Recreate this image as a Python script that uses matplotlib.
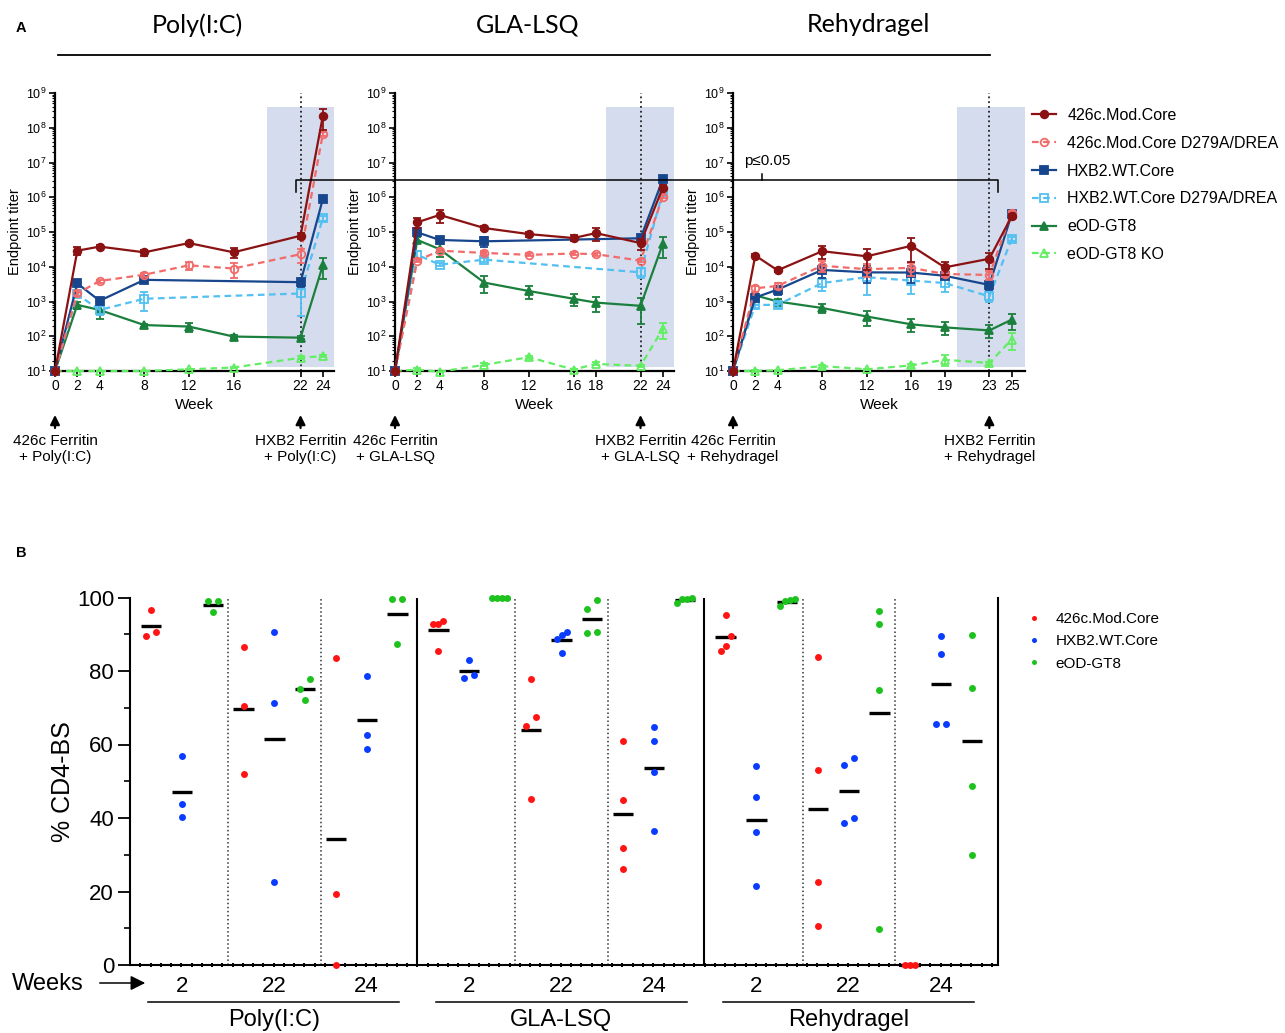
import numpy as np
import matplotlib
matplotlib.use('Agg')
import matplotlib.pyplot as plt
from matplotlib import transforms
from matplotlib.lines import Line2D
from matplotlib.ticker import FixedLocator, LogLocator, NullFormatter, LogFormatterMathtext

plt.rcParams['font.family'] = ['Liberation Sans', 'DejaVu Sans']

nan = np.nan

# ---------------- panel A data ----------------
series_names = ['426c.Mod.Core', '426c.Mod.Core D279A/DREA', 'HXB2.WT.Core',
                'HXB2.WT.Core D279A/DREA', 'eOD-GT8', 'eOD-GT8 KO']
series_colors = ['#8b1212', '#f26b6b', '#17468c', '#52c0f2', '#1b7f3d', '#62ee62']
series_markers = ['o', 'o', 's', 's', '^', '^']
series_filled = [True, False, True, False, True, False]

adjuvants = ['Poly(I:C)', 'GLA-LSQ', 'Rehydragel']

poly_weeks = [0, 2, 4, 8, 12, 16, 22, 24]
poly_titer = [
    [10, 2.9e4, 3.8e4, 2.6e4, 4.8e4, 2.6e4, 7.8e4, 2.2e8],
    [10, 1.7e3, 3.9e3, 5.9e3, 1.1e4, 8.9e3, 2.3e4, 6.6e7],
    [10, 3.3e3, 1.05e3, 4.2e3, nan, nan, 3.6e3, 8.9e5],
    [10, 1.6e3, 570, 1.2e3, nan, nan, 1.7e3, 2.5e5],
    [10, 800, 570, 210, 190, 98, 91, 1.1e4],
    [10, 10, 10, 10, 11.2, 12.6, 24, 27],
]
poly_sem = [  # relative SEM
    [0, 0.25, 0.1, 0.2, 0.1, 0.3, 0.2, 0.6],
    [0, 0.15, 0.1, 0.15, 0.25, 0.45, 0.45, 0.15],
    [0, 0.15, 0.15, 0.2, nan, nan, 0.25, 0.15],
    [0, 0.15, 0.3, 0.55, nan, nan, 0.77, 0.15],
    [0, 0.25, 0.45, 0.1, 0.3, 0.1, 0.1, 0.6],
    [0, 0, 0, 0, 0.05, 0.05, 0.1, 0.05],
]

gla_weeks = [0, 2, 4, 8, 12, 16, 18, 22, 24]
gla_titer = [
    [10, 1.9e5, 3.1e5, 1.3e5, 8.7e4, 6.7e4, 9.3e4, 4.8e4, 1.9e6],
    [10, 1.5e4, 2.9e4, 2.5e4, 2.2e4, 2.4e4, 2.3e4, 1.5e4, 1.05e6],
    [10, 9.8e4, 5.9e4, 5.4e4, nan, nan, nan, 6.6e4, 3.3e6],
    [10, 2.2e4, 1.15e4, 1.6e4, nan, nan, nan, 6.9e3, 1.4e6],
    [10, 5.9e4, 3.2e4, 3.5e3, 2.0e3, 1.2e3, 930, 750, 4.6e4],
    [10, 11, 9.5, 15, 25, 11, 16, 14, 165],
]
gla_sem = [
    [0, 0.3, 0.4, 0.15, 0.15, 0.2, 0.4, 0.35, 0.15],
    [0, 0.1, 0.1, 0.1, 0.1, 0.1, 0.1, 0.1, 0.1],
    [0, 0.1, 0.1, 0.3, nan, nan, nan, 0.2, 0.1],
    [0, 0.3, 0.1, 0.15, nan, nan, nan, 0.3, 0.1],
    [0, 0.2, 0.4, 0.5, 0.4, 0.4, 0.45, 0.7, 0.6],
    [0, 0.1, 0, 0.1, 0.1, 0.05, 0.1, 0.05, 0.5],
]

rehy_weeks = [0, 2, 4, 8, 12, 16, 19, 23, 25]
rehy_titer = [
    [10, 2.1e4, 7.9e3, 2.8e4, 2.0e4, 4.0e4, 9.6e3, 1.7e4, 2.8e5],
    [10, 2.4e3, 2.8e3, 1.07e4, 8.5e3, 9.3e3, 6.2e3, 5.8e3, 3.6e5],
    [10, 1.3e3, 2.2e3, 8.1e3, 6.9e3, 6.8e3, 5.5e3, 3.0e3, 3.2e5],
    [10, 800, 800, 3.4e3, 5.0e3, 4.0e3, 3.4e3, 1.4e3, 6.3e4],
    [10, 1.5e3, 1.0e3, 650, 370, 220, 180, 147, 300],
    [10, 10, 10.5, 13.8, 11.2, 14.5, 21, 17, 80],
]
rehy_sem = [
    [0, 0.1, 0.1, 0.4, 0.6, 0.65, 0.4, 0.5, 0.15],
    [0, 0.2, 0.2, 0.35, 0.4, 0.4, 0.2, 0.3, 0.1],
    [0, 0.2, 0.3, 0.4, 0.5, 0.5, 0.2, 0.3, 0.1],
    [0, 0.2, 0.2, 0.4, 0.7, 0.6, 0.45, 0.3, 0.15],
    [0, 0.2, 0.2, 0.3, 0.45, 0.4, 0.4, 0.4, 0.5],
    [0, 0.05, 0.05, 0.1, 0.05, 0.1, 0.35, 0.1, 0.5],
]

boost_week = [22, 22, 23]
shade_weeks = [(19, 25), (18.9, 25), (20.1, 26.2)]

# ---------------- panel B data ----------------
bs_names = ['426c.Mod.Core', 'HXB2.WT.Core', 'eOD-GT8']
bs_colors = ['#ff1414', '#0a3cff', '#1ec21e']
bs_weeks = ['2', '22', '24']

# rows: week 2, 22, 24
poly_426c = [[96.6, 89.6, 90.7], [86.6, 70.5, 52.1], [83.5, 19.4, 0]]
poly_hxb2 = [[56.9, 43.9, 40.3], [90.7, 71.2, 22.6], [78.7, 62.7, 58.7]]
poly_eod = [[99.0, 99.0, 96.1], [77.8, 75.2, 72.1], [99.5, 99.5, 87.3]]

gla_426c = [[92.9, 92.9, 93.7, 85.5], [77.7, 67.5, 65.1, 45.2], [61.0, 45.0, 31.9, 26.0]]
gla_hxb2 = [[82.9, 78.2, 79.0], [89.8, 90.7, 88.8, 84.8], [64.7, 61.0, 52.5, 36.4]]
gla_eod = [[100, 100, 100, 100], [99.4, 96.8, 90.3, 90.5], [99.5, 99.9, 98.5, 99.5]]

rehy_426c = [[95.3, 89.4, 86.9, 85.4], [83.9, 53.1, 22.6, 10.7], [0, 0, 0]]
rehy_hxb2 = [[54.2, 45.8, 36.3, 21.5], [56.4, 54.5, 40.1, 38.7], [89.4, 84.6, 65.7, 65.7]]
rehy_eod = [[99.3, 99.5, 97.7, 99.0], [96.4, 92.8, 74.8, 9.8], [89.9, 75.5, 48.7, 29.9]]

W, H = 1285, 1033
fig = plt.figure(figsize=(W / 100, H / 100), dpi=100)


def px_axes(left, top, right, bottom):
    return fig.add_axes([left / W, 1 - bottom / H, (right - left) / W, (bottom - top) / H])


def fig_line(xs, ys, **kw):
    fig.add_artist(Line2D([x / W for x in xs], [1 - y / H for y in ys],
                          transform=fig.transFigure, **kw))


# ================= Panel A =================
titer_sets = [(poly_weeks, poly_titer, poly_sem),
              (gla_weeks, gla_titer, gla_sem),
              (rehy_weeks, rehy_titer, rehy_sem)]
axes_px = [(55, 93, 334, 371), (395, 93, 674, 371), (733, 93, 1025, 371)]
xmax = [25, 25, 26.2]

legend_handles = None
for i, (weeks, titers, sems) in enumerate(titer_sets):
    ax = px_axes(*axes_px[i])
    ax.set_yscale('log')
    ax.set_ylim(10, 1e9)
    ax.set_xlim(0, xmax[i])
    ax.axvspan(*shade_weeks[i], ymin=0.015, ymax=0.948, color='#d4dcee', lw=0, zorder=0)
    ax.axvline(boost_week[i], color='#222222', ls=':', lw=1.3, zorder=1)

    weeks = np.array(weeks, dtype=float)
    handles = []
    for s in range(len(series_names) - 1, -1, -1):
        y = np.array(titers[s], dtype=float)
        r = np.array(sems[s], dtype=float)
        ok = ~np.isnan(y)
        c = series_colors[s]
        ls = '-' if series_filled[s] else (0, (3, 2))
        ax.errorbar(weeks[ok], y[ok], yerr=[y[ok] * r[ok], y[ok] * r[ok]], fmt='none',
                    ecolor=c, elinewidth=1.3, capsize=3, capthick=1.3, clip_on=False,
                    zorder=2 + (6 - s))
        ln, = ax.plot(weeks[ok], y[ok], ls=ls, color=c, lw=1.6,
                      marker=series_markers[s], ms=5.5 if s < 4 else 6,
                      mfc=c if series_filled[s] else 'none', mec=c, mew=1.3,
                      clip_on=False, zorder=3 + (6 - s), label=series_names[s])
        handles.append(ln)
    if legend_handles is None:
        legend_handles = handles[::-1]

    for side in ['top', 'right']:
        ax.spines[side].set_visible(False)
    for side in ['left', 'bottom']:
        ax.spines[side].set_linewidth(1.6)
    ax.set_xticks(weeks)
    ax.set_xticklabels([f'{w:g}' for w in weeks], fontsize=10)
    ax.yaxis.set_major_locator(LogLocator(base=10, numticks=12))
    ax.yaxis.set_major_formatter(LogFormatterMathtext())
    ax.yaxis.set_minor_locator(LogLocator(base=10, subs=np.arange(2, 10), numticks=12))
    ax.yaxis.set_minor_formatter(NullFormatter())
    ax.tick_params(axis='both', which='major', length=4, width=1.2, pad=2)
    ax.tick_params(axis='y', which='major', labelsize=9)
    ax.tick_params(axis='y', which='minor', length=2, width=0.8)
    ax.set_xlabel('Week', fontsize=11, labelpad=3)
    ax.set_ylabel('Endpoint titer', fontsize=10.5, labelpad=3)

    adj = adjuvants[i]
    for wk, txt in [(0, f'426c Ferritin\n+ {adj}'), (boost_week[i], f'HXB2 Ferritin\n+ {adj}')]:
        ax.annotate('', xy=(wk, -0.148), xytext=(wk, -0.215),
                    xycoords=('data', 'axes fraction'), textcoords=('data', 'axes fraction'),
                    arrowprops=dict(arrowstyle='-|>', color='black', lw=1.6, mutation_scale=14),
                    annotation_clip=False)
        ax.text(wk, -0.225, txt, transform=transforms.blended_transform_factory(ax.transData, ax.transAxes),
                ha='center', va='top', fontsize=11, multialignment='center', linespacing=1.2)

fig.legend(legend_handles, series_names, loc='upper left', bbox_to_anchor=(1032 / W, 1 - 108 / H),
           frameon=False, fontsize=11.5, handlelength=1.5, handletextpad=0.7, labelspacing=0.8,
           borderaxespad=0, borderpad=0)

# headers and bracket
header_x = [197, 528, 868]
for hx, adj in zip(header_x, adjuvants):
    fig.text(hx / W, 1 - 25 / H, adj, fontsize=18, family=['Lato', 'DejaVu Sans'],
             ha='center', va='center')
fig_line([58, 990], [55, 55], color='black', lw=1.3)
fig_line([296, 296, 998, 998], [192, 180, 180, 192], color='black', lw=1.1)
fig_line([762, 762], [180, 174], color='black', lw=1.1)
fig.text(744 / W, 1 - 161 / H, 'p≤0.05', fontsize=11, ha='left', va='center')

fig.text(16 / W, 1 - 28 / H, 'A', fontsize=10.5, fontweight='bold', va='center')
fig.text(16 / W, 1 - 553 / H, 'B', fontsize=10.5, fontweight='bold', va='center')

# ================= Panel B =================
bs_groups = [(poly_426c, poly_hxb2, poly_eod),
             (gla_426c, gla_hxb2, gla_eod),
             (rehy_426c, rehy_hxb2, rehy_eod)]
group_w = 9.33
col_off = 0.69
bx = px_axes(130, 597.5, 998, 965)
bx.set_xlim(0, 28.2)
bx.set_ylim(0, 100)
x_px = 868 / 28.2
y_px = 367.5 / 100


def swarm_offsets(vals, thresh=10.5):
    """Spread close points sideways, GraphPad style (returns pixels)."""
    vals = np.asarray(vals, dtype=float)
    order = np.argsort(vals)
    offs = np.zeros(len(vals))
    clusters = [[order[0]]]
    for a, b in zip(order[:-1], order[1:]):
        if (vals[b] - vals[a]) * y_px < thresh:
            clusters[-1].append(b)
        else:
            clusters.append([b])
    for cl in clusters:
        n = len(cl)
        if n > 1:
            step = 10 if n == 2 else 5
            offs[cl] = (np.arange(n) - (n - 1) / 2) * step
    return offs


tick_pos = []
for g, group in enumerate(bs_groups):
    base = g * group_w
    for w in range(3):
        for s in range(3):
            vals = np.array(group[s][w], dtype=float)
            xc = base + col_off + w * 3 + s
            xs = xc + swarm_offsets(vals) / x_px
            m = vals.mean()
            bx.plot([xc - 0.33, xc + 0.33], [m, m], color='black', lw=2.4,
                    solid_capstyle='butt', zorder=3, clip_on=False)
            bx.plot(xs, vals, 'o', color=bs_colors[s], ms=5.0, mew=0, clip_on=False, zorder=4)
        tick_pos.append(base + col_off + w * 3 + 1)
    for k in (2.5, 5.5):
        bx.axvline(base + col_off + k, color='#333333', ls=':', lw=1.1, zorder=1)
    if g > 0:
        bx.axvline(base, color='black', lw=1.5, zorder=1)

bx.spines['top'].set_visible(False)
for side in ['left', 'bottom', 'right']:
    bx.spines[side].set_linewidth(1.5)
bx.set_yticks(np.arange(0, 101, 20))
bx.yaxis.set_minor_locator(FixedLocator(np.arange(10, 100, 20)))
bx.tick_params(axis='y', which='major', length=8.5, width=1.3, labelsize=16, pad=3)
bx.tick_params(axis='y', which='minor', length=4.5, width=1.2)
bx.set_xticks(tick_pos)
bx.set_xticklabels(bs_weeks * 3, fontsize=16)
bx.xaxis.set_minor_locator(FixedLocator(np.arange(1 / 3, 28.2, 1 / 3)))
bx.tick_params(axis='x', which='major', length=0, pad=8)
bx.tick_params(axis='x', which='minor', direction='inout', length=3.5, width=1.4)
bx.set_ylabel('% CD4-BS', fontsize=18, labelpad=1)

blend = transforms.blended_transform_factory(bx.transData, fig.transFigure)
for g, adj in enumerate(adjuvants):
    base = g * group_w
    bx.add_artist(Line2D([base + 0.6, base + 8.75], [1 - 1002 / H] * 2, transform=blend,
                         color='black', lw=1.1, clip_on=False))
    bx.text(base + 4.68, 1 - 1020 / H, adj, transform=blend, ha='center', va='center',
            fontsize=17)

fig.text(12 / W, 1 - 984 / H, 'Weeks', fontsize=17, va='center', ha='left')
fig.add_artist(matplotlib.patches.FancyArrowPatch(
    (97 / W, 1 - 983 / H), (148 / W, 1 - 983 / H), transform=fig.transFigure,
    arrowstyle='-|>', mutation_scale=22, color='black', lw=1.1))

bs_handles = [Line2D([], [], ls='none', marker='o', ms=3.6, mew=0, color=c) for c in bs_colors]
fig.legend(bs_handles, bs_names, loc='upper left', bbox_to_anchor=(1025 / W, 1 - 612 / H),
           frameon=False, fontsize=11, handlelength=1.2, handletextpad=0.8, labelspacing=0.55,
           borderaxespad=0, borderpad=0)

fig.savefig('out.png', dpi=100)
